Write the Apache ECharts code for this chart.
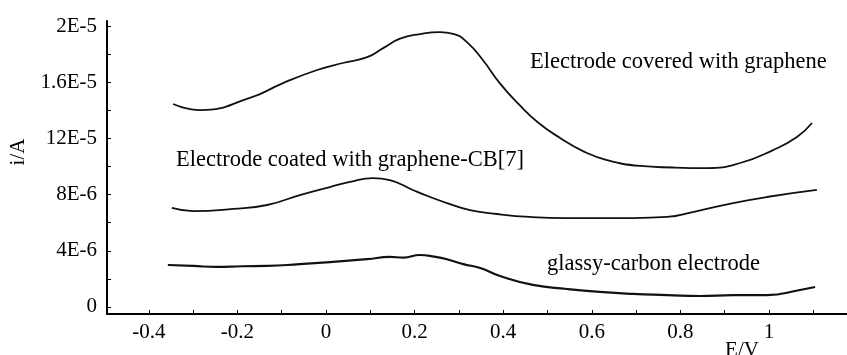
<!DOCTYPE html>
<html>
<head>
<meta charset="utf-8">
<script src="https://cdn.jsdelivr.net/npm/echarts@6/dist/echarts.min.js"></script>
<style>
  html, body { margin: 0; padding: 0; background: #fff; }
  #grafico { width: 847px; height: 355px; }
</style>
</head>
<body>
<div id="grafico"></div>
<script>
// Corriente en unidades de 1E-6 A, potencial en V
const curvaGrafeno = [
  [-0.345, 14.45], [-0.284, 14.02], [-0.172, 14.88], [-0.097, 15.94], [-0.020, 16.87],
  [0.038, 17.37], [0.093, 17.79], [0.129, 18.43], [0.167, 19.10], [0.212, 19.43],
  [0.257, 19.57], [0.287, 19.45], [0.318, 18.86], [0.354, 17.58], [0.393, 15.90],
  [0.436, 14.40], [0.480, 13.10], [0.530, 12.00], [0.580, 11.10], [0.634, 10.46],
  [0.709, 10.04], [0.783, 9.93], [0.860, 9.89], [0.935, 10.25], [1.009, 11.17],
  [1.063, 12.10], [1.097, 13.10]
];
const curvaGrafenoCB7 = [
  [-0.348, 7.05], [-0.300, 6.83], [-0.210, 6.98], [-0.133, 7.26], [-0.059, 7.97],
  [0.009, 8.54], [0.054, 8.90], [0.106, 9.18], [0.144, 9.04], [0.196, 8.33],
  [0.235, 7.83], [0.273, 7.40], [0.325, 6.90], [0.386, 6.62], [0.460, 6.41],
  [0.544, 6.33], [0.693, 6.33], [0.770, 6.41], [0.828, 6.76], [0.919, 7.40],
  [0.995, 7.83], [1.108, 8.33]
];
const curvaCarbonoVitreo = [
  [-0.357, 2.99], [-0.300, 2.92], [-0.246, 2.85], [-0.190, 2.90], [-0.133, 2.92],
  [-0.060, 3.05], [0.009, 3.20], [0.093, 3.40], [0.144, 3.56], [0.175, 3.52],
  [0.212, 3.70], [0.245, 3.58], [0.273, 3.40], [0.310, 3.05], [0.348, 2.78],
  [0.393, 2.20], [0.467, 1.57], [0.544, 1.28], [0.618, 1.07], [0.693, 0.93],
  [0.770, 0.85], [0.844, 0.78], [0.919, 0.85], [0.995, 0.85], [1.070, 1.21], [1.104, 1.42]
];

const ticksX = [-0.4, -0.3, -0.2, -0.1, 0, 0.1, 0.2, 0.3, 0.4, 0.5, 0.6, 0.7, 0.8, 0.9, 1, 1.1];
const etiquetasX = [-0.4, -0.2, 0, 0.2, 0.4, 0.6, 0.8, 1];
const ticksY = [0, 2, 4, 6, 8, 10, 12, 14, 16, 18, 20];
const etiquetasY = [0, 4, 8, 12, 16, 20];
const textosY = ['0', '4E-6', '8E-6', '12E-5', '1.6E-5', '2E-5'];

const fuente = '"Liberation Serif", "Times New Roman", serif';

const grafico = echarts.init(document.getElementById('grafico'));

function serie(nombre, datos, ancho) {
  return {
    name: nombre,
    type: 'line',
    data: datos,
    smooth: 0.5,
    showSymbol: false,
    lineStyle: { color: '#111', width: ancho }
  };
}

grafico.setOption({
  animation: false,
  grid: { left: 107, right: 0, top: 21, bottom: 41 },
  xAxis: {
    type: 'value',
    min: -0.4944,
    max: 1.176,
    axisLine: { onZero: false, lineStyle: { color: '#000', width: 2 } },
    axisTick: { inside: true, length: 4, customValues: ticksX, lineStyle: { color: '#000' } },
    axisLabel: {
      customValues: etiquetasX,
      color: '#000',
      fontFamily: fuente,
      fontSize: 21,
      margin: 8,
      formatter: v => String(v)
    },
    splitLine: { show: false }
  },
  yAxis: {
    type: 'value',
    min: -0.5,
    max: 20.36,
    axisLine: { show: true, onZero: false, lineStyle: { color: '#000', width: 2 } },
    axisTick: { show: true, inside: true, length: 4, customValues: ticksY, lineStyle: { color: '#000' } },
    axisLabel: {
      customValues: etiquetasY,
      color: '#000',
      fontFamily: fuente,
      fontSize: 21,
      margin: 10,
      formatter: v => textosY[etiquetasY.indexOf(Math.round(v))]
    },
    splitLine: { show: false }
  },
  graphic: [
    { type: 'text', x: 18, y: 152, rotation: Math.PI / 2,
      style: { text: 'i/A', font: '21px ' + fuente, fill: '#000', align: 'center', verticalAlign: 'middle' } },
    { type: 'text', x: 742, y: 350,
      style: { text: 'E/V', font: '21px ' + fuente, fill: '#000', align: 'center', verticalAlign: 'middle' } },
    { type: 'text', x: 530, y: 62,
      style: { text: 'Electrode covered with graphene', font: '22.5px ' + fuente, fill: '#000', verticalAlign: 'middle' } },
    { type: 'text', x: 176, y: 160,
      style: { text: 'Electrode coated with graphene-CB[7]', font: '22.5px ' + fuente, fill: '#000', verticalAlign: 'middle' } },
    { type: 'text', x: 547, y: 264,
      style: { text: 'glassy-carbon electrode', font: '22.5px ' + fuente, fill: '#000', verticalAlign: 'middle' } }
  ],
  series: [
    serie('Electrode covered with graphene', curvaGrafeno, 1.8),
    serie('Electrode coated with graphene-CB[7]', curvaGrafenoCB7, 1.8),
    serie('glassy-carbon electrode', curvaCarbonoVitreo, 2.2)
  ]
});
</script>
</body>
</html>
